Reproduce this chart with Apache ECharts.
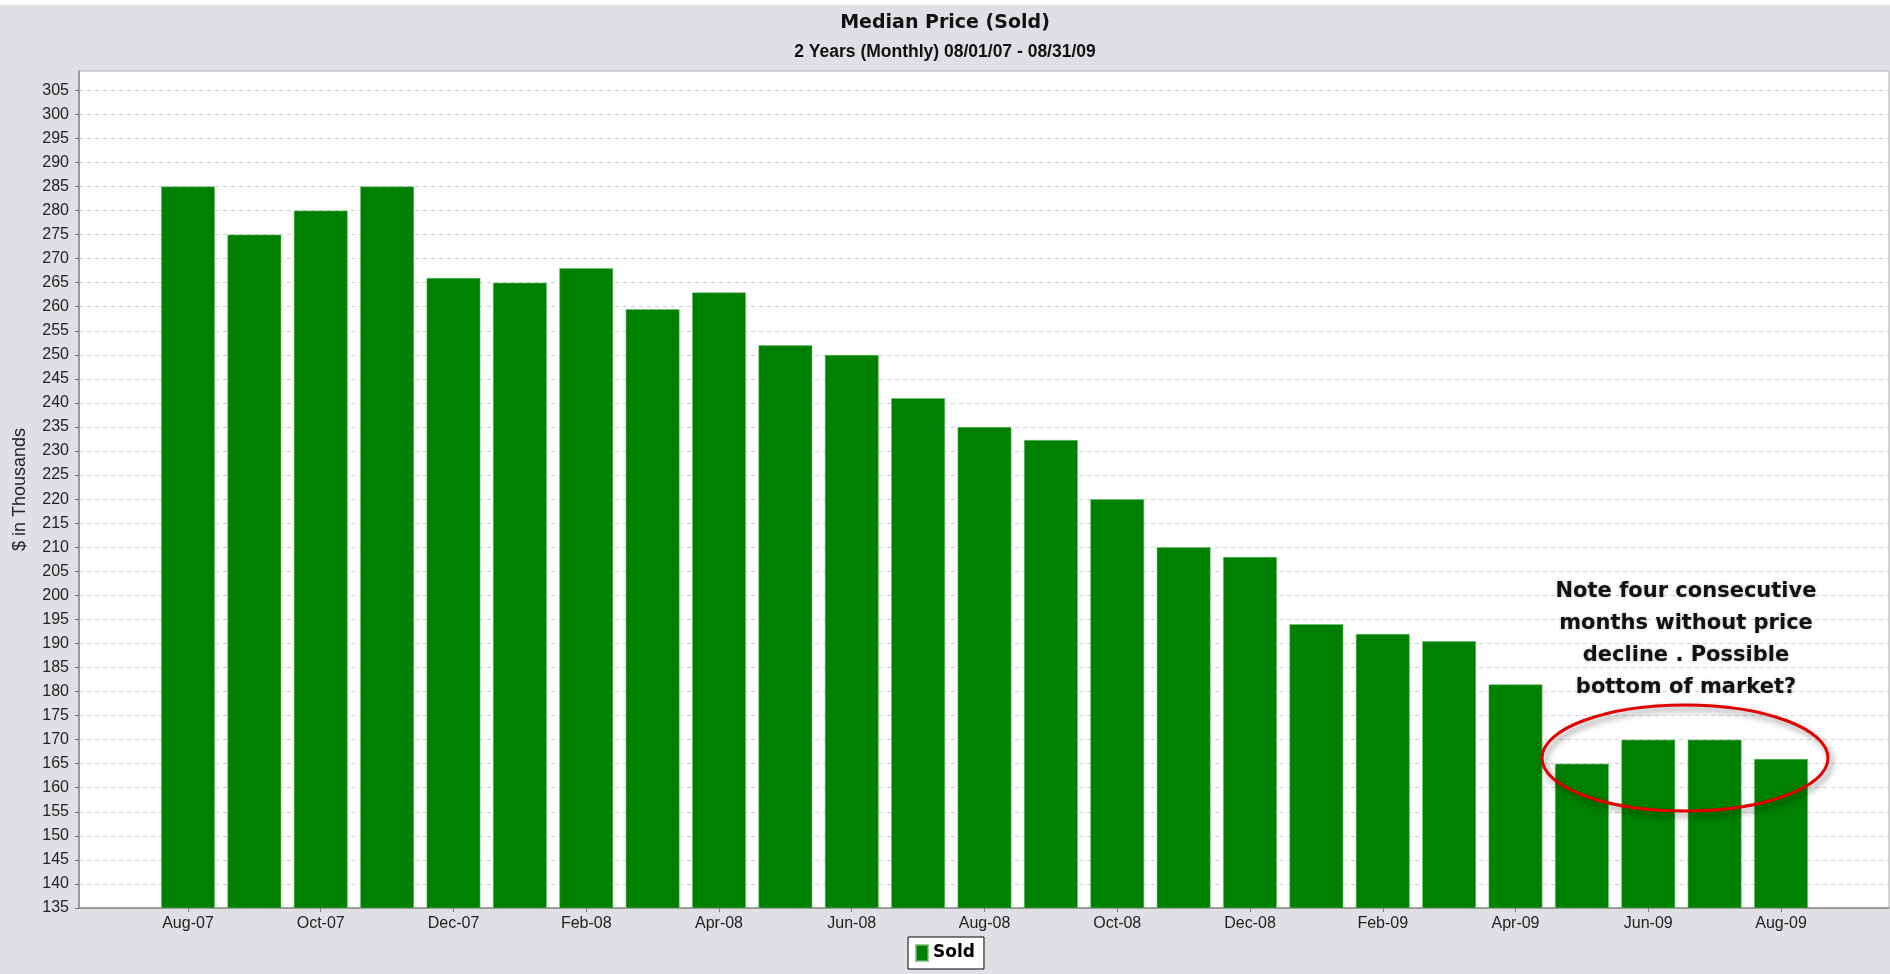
<!DOCTYPE html>
<html>
<head>
<meta charset="utf-8">
<script src="https://cdn.jsdelivr.net/npm/echarts@6/dist/echarts.min.js"></script>
<style>
html,body{margin:0;padding:0;background:#e0e0e4;}
#chart{width:1890px;height:974px;}
</style>
</head>
<body>
<div id="chart"></div>
<script>
const categories = ['Aug-07','Sep-07','Oct-07','Nov-07','Dec-07','Jan-08','Feb-08','Mar-08','Apr-08','May-08','Jun-08','Jul-08','Aug-08','Sep-08','Oct-08','Nov-08','Dec-08','Jan-09','Feb-09','Mar-09','Apr-09','May-09','Jun-09','Jul-09','Aug-09'];
const soldValues = [285, 275, 280, 285, 266, 265, 268, 259.5, 263, 252, 250, 241, 235, 232.3, 220, 210, 208, 194, 192, 190.5, 181.5, 165, 170, 170, 166];
const yMin = 135, yMax = 309, yStep = 5;
const titleText = 'Median Price (Sold)';
const subtitleText = '2 Years (Monthly) 08/01/07 - 08/31/09';
const yAxisName = '$ in Thousands';
const noteLines = ['Note four consecutive', 'months without price', 'decline . Possible', 'bottom of market?'];

const chart = echarts.init(document.getElementById('chart'));
const labelFont = 'Liberation Sans';
chart.setOption({
  backgroundColor: '#e0e0e4',
  animation: false,
  title: [
    { text: titleText, left: 'center', top: 9,
      textStyle: { fontFamily: 'DejaVu Sans', fontWeight: 'bold', fontSize: 19, color: '#111' } },
    { text: subtitleText, left: 'center', top: 38,
      textStyle: { fontFamily: 'Liberation Sans', fontWeight: 'bold', fontSize: 17.5, color: '#111' } }
  ],
  legend: {
    data: ['Sold'], left: 'center', top: 937,
    icon: 'rect', itemWidth: 12, itemHeight: 16,
    padding: [7, 9, 7, 7],
    backgroundColor: '#fff', borderColor: '#000', borderWidth: 1, borderRadius: 0,
    textStyle: { fontFamily: 'DejaVu Sans', fontWeight: 'bold', fontSize: 17, color: '#000' }
  },
  grid: [
    { left: 79, right: 1, top: 71, bottom: 66, show: true, backgroundColor: '#fff', borderColor: '#b0b0b0', borderWidth: 1 },
    { left: 154.8, right: 75.8, top: 71, bottom: 66 }
  ],
  xAxis: [
    { gridIndex: 0, type: 'value', min: 0, max: 1, axisLabel: { show: false }, axisTick: { show: false },
      splitLine: { show: false }, axisLine: { show: true, lineStyle: { color: '#8a8a8a', width: 1.5 } } },
    { gridIndex: 1, type: 'category', data: categories, boundaryGap: true,
      axisLine: { show: false },
      axisTick: { show: true, interval: 1, alignWithLabel: true, length: 4, lineStyle: { color: '#777' } },
      axisLabel: { interval: 1, margin: 8, fontFamily: labelFont, fontSize: 16, color: '#222' } }
  ],
  yAxis: [
    { gridIndex: 0, type: 'value', min: yMin, max: yMax, interval: yStep,
      name: yAxisName, nameLocation: 'middle', nameGap: 50,
      nameTextStyle: { fontFamily: labelFont, fontSize: 18, color: '#222' },
      axisLine: { show: true, lineStyle: { color: '#8a8a8a', width: 1.5 } },
      axisTick: { show: true, length: 4, lineStyle: { color: '#777' } },
      axisLabel: { showMaxLabel: false, margin: 10, fontFamily: labelFont, fontSize: 16, color: '#222' },
      splitLine: { show: true, lineStyle: { color: '#cfcfcf', type: [4, 4], width: 1 } } },
    { gridIndex: 1, type: 'value', min: yMin, max: yMax, interval: yStep, show: false,
      splitLine: { show: false } }
  ],
  series: [
    { name: 'Sold', type: 'bar', xAxisIndex: 1, yAxisIndex: 1, data: soldValues, barWidth: 54,
      itemStyle: { color: '#008000', borderColor: 'rgba(110,190,110,0.7)', borderWidth: 0.8 } }
  ],
  graphic: [
    { type: 'rect', shape: { x: 0, y: 0, width: 1890, height: 5 }, style: { fill: '#fff' }, silent: true },
    { type: 'ellipse', z: 100, shape: { cx: 1685, cy: 758, rx: 143, ry: 53 },
      style: { fill: 'none', stroke: '#e00000', lineWidth: 3,
               shadowBlur: 6, shadowColor: 'rgba(0,0,0,0.45)', shadowOffsetX: 3, shadowOffsetY: 4 } },
    { type: 'text', z: 100, x: 1686, y: 576,
      style: { text: noteLines.join('\n'), align: 'center', verticalAlign: 'top',
               font: 'bold 21px "DejaVu Sans"', lineHeight: 32, fill: '#111',
               textShadowBlur: 3, textShadowColor: 'rgba(0,0,0,0.25)' } }
  ]
});
</script>
</body>
</html>
